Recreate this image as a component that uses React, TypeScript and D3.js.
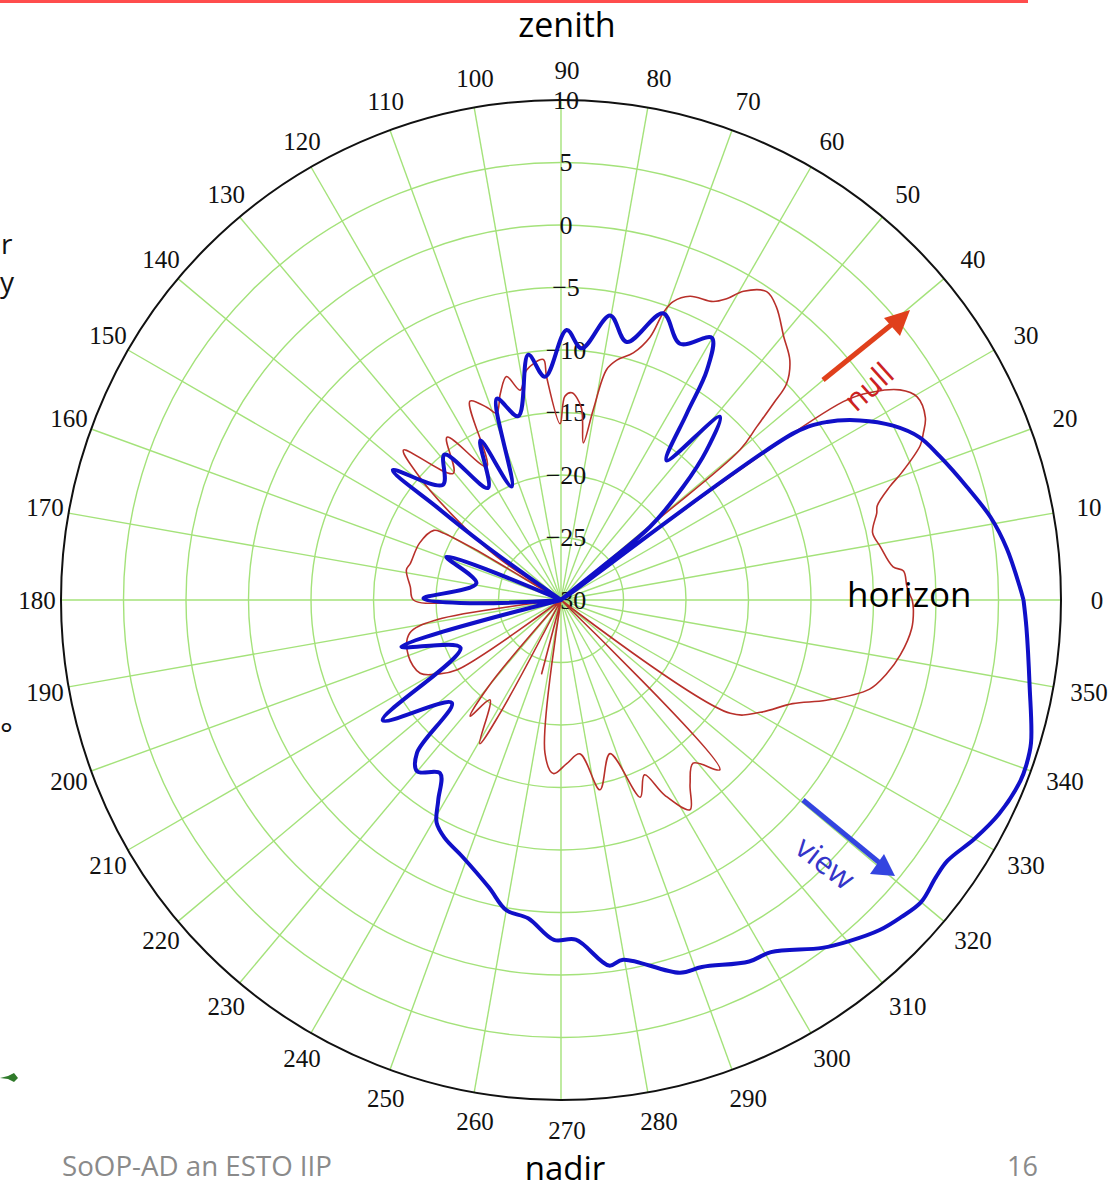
import React from 'react'
import * as d3 from 'd3'

// antenna pattern, angle in degrees (0 = horizon, 90 = zenith), gain in dB
const blueAngles = [0, 1.75, 6.6, 10.9, 15.6, 20.8, 24.4, 27.7, 31.0, 33.8, 35.6, 37, 39, 39.4, 42.8, 45.8, 49.1, 52.9, 56.0, 57.6, 60.1, 65.1, 70.4, 75.7, 80.2, 85.3, 88.8, 94.1, 97.6, 103.1, 107.7, 113.5, 116.8, 123.1, 128.7, 135.7, 142.3, 143.2, 144.3, 148, 158.5, 159.3, 168.8, 179.3, 182, 183, 195.5, 196.3, 205.4, 214, 223.3, 226.7, 230, 235.1, 238.5, 240.8, 244, 249, 255.9, 260, 264.1, 268.8, 272.5, 277.5, 279.8, 287.7, 291, 297.5, 300.8, 306.9, 310.1, 314, 317, 320, 323.5, 326, 330, 334, 338.5, 340.4, 343.1, 349.7, 356.6, 360]
const blueGain = [7.0, 6.7, 5.9, 5.0, 3.7, 2.4, 1.5, 0.0, -2.1, -4.4, -7.0, -40, -25.3, -20.8, -16.7, -13.3, -10.6, -16.0, -12.0, -8.2, -5.8, -7.4, -5.65, -8.7, -6.9, -9.8, -8.4, -12.1, -10.2, -14.9, -13.1, -20.1, -15.7, -19.3, -15.1, -16.8, -13.0, -17.6, -22.7, -40, -40, -20.2, -23.1, -19.0, -22.7, -40, -40, -16.7, -21.1, -12.8, -18.0, -13.2, -12.1, -13.1, -11.2, -9.6, -8.8, -8.0, -6.3, -4.8, -4.4, -2.8, -2.8, -0.5, -0.8, 1.3, 1.45, 2.6, 2.8, 4.8, 5.7, 6.7, 7.2, 7.6, 7.3, 7.3, 8.2, 9.0, 9.5, 9.5, 9.3, 8.1, 7.3, 7.0]

const redAngles = [0, 2.2, 4.85, 5.7, 9.5, 12.2, 15.4, 16.6, 19.0, 20.5, 23.3, 24.7, 26.6, 29.7, 31.8, 33.7, 35.1, 36.5, 39.3, 39.7, 40.0, 41.5, 42.8, 43.8, 46.3, 49.8, 53.7, 56.3, 59.4, 61.2, 63.0, 67.0, 69.4, 70.4, 71.3, 73.7, 76.9, 78.8, 80.4, 81.9, 84, 87.0, 88.9, 90.3, 93.7, 94.2, 98.5, 101, 103.7, 106.4, 109, 111, 114.6, 119.1, 125, 130.4, 136.4, 139, 142, 146, 148, 149.5, 150.4, 151.3, 158.1, 166.3, 169, 175, 180, 181.5, 183, 187, 189, 192.4, 200, 207.5, 211, 213.9, 215, 228, 230, 232, 234.6, 240.5, 241.7, 243.5, 254, 255.3, 256.5, 262, 264, 267.5, 272, 277, 281.6, 287.7, 291.9, 295.5, 298, 301.6, 305, 309, 313.1, 314.5, 325.5, 326.2, 330.6, 335.9, 339.3, 343.9, 347.2, 350.8, 355.4, 358.5, 360]
const redGain = [-1.9, -2.3, -2.5, -3.3, -4.1, -4.5, -3.8, -3.6, -2.2, -0.9, 1.3, 1.9, 2.6, 2.8, 1.9, 0.0, -2.4, -40, -40, -20, -11.3, -9.1, -6.8, -5.0, -3.5, -2.4, -0.9, -0.35, -1.3, -2.5, -3.2, -3.6, -4.5, -5.6, -7.8, -9.4, -10.3, -11.2, -14.6, -17.3, -14.5, -13.4, -13.7, -15.9, -12.1, -10.7, -11.4, -12.9, -11.6, -12.8, -14.2, -13.5, -12.5, -17.8, -14.1, -16.7, -12.6, -15, -19, -23.8, -40, -22, -19.1, -18.4, -17.8, -17.6, -17.4, -17.9, -18.2, -22, -40, -40, -20, -17.6, -17.0, -17.3, -18.5, -20, -40, -40, -21, -18.2, -20.2, -16.8, -19.7, -40, -40, -23.9, -40, -40, -17.7, -16.1, -16.9, -17.6, -14.5, -17.1, -13.0, -14.5, -12.3, -10.3, -12, -13.2, -11.4, -40, -40, -13.7, -11.7, -9.7, -7.3, -4.3, -3.3, -2.5, -1.85, -1.8, -1.9]

const angleTicks = d3.range(0, 360, 10)
const gainTicks = [-30, -25, -20, -15, -10, -5, 0, 5, 10]

const W = 1119
const H = 1190
const cx = 561
const cy = 600
const R = 500

const serif = '"Liberation Serif", "Times New Roman", serif'
const sans = '"Open Sans", "Noto Sans", sans-serif'

export default function App() {
  const r = d3.scaleLinear().domain([-30, 10]).range([0, R]).clamp(true)
  const rad = (deg: number) => (deg * Math.PI) / 180

  const pattern = d3
    .lineRadial<[number, number]>()
    .angle(d => rad(90 - d[0]))
    .radius(d => r(d[1]))
    .curve(d3.curveCatmullRom.alpha(0.5))

  const blue = blueAngles.map((a, i) => [a, blueGain[i]] as [number, number])
  const red = redAngles.map((a, i) => [a, redGain[i]] as [number, number])

  const fmt = (v: number) => (v < 0 ? '\u2212' + Math.abs(v) : String(v))

  return (
    <div style={{ position: 'absolute', left: 0, top: 0 }}>
      <svg width={W} height={H} style={{ display: 'block', background: '#fff' }}>
        <rect x={0} y={0} width={1028} height={3} fill="#ff4d4d" />

        {/* slide text peeking in at the left edge */}
        <text x={1} y={254} fontFamily={sans} fontSize={28} fill="#111">r</text>
        <text x={0} y={292} fontFamily={sans} fontSize={28} fill="#111">y</text>
        <text x={0} y={744} fontFamily={sans} fontSize={30} fill="#111">°</text>
        <path d="M0,1078 L8,1076 L14,1073 L18,1078 L14,1082 L8,1079 Z" fill="#2f7a2a" />

        <text x={567} y={37} textAnchor="middle" fontFamily={sans} fontSize={34} fill="#000">zenith</text>

        <g transform={`translate(${cx},${cy})`}>
          {gainTicks.filter(g => g > -30 && g < 10).map(g => (
            <circle key={g} r={r(g)} fill="none" stroke="#a4e27a" strokeWidth={1.4} />
          ))}
          {angleTicks.map(a => (
            <line
              key={a}
              x1={0}
              y1={0}
              x2={R * Math.cos(rad(a))}
              y2={-R * Math.sin(rad(a))}
              stroke="#a4e27a"
              strokeWidth={1.4}
            />
          ))}
          <circle r={R} fill="none" stroke="#111" strokeWidth={2} />

          {gainTicks.map(g => (
            <text
              key={g}
              x={5}
              y={-r(g)}
              textAnchor="middle"
              dominantBaseline="central"
              fontFamily={serif}
              fontSize={26}
              fill="#111"
            >
              {fmt(g)}
            </text>
          ))}

          {angleTicks.map(a => (
            <text
              key={a}
              x={6 + 530 * Math.cos(rad(a))}
              y={-530 * Math.sin(rad(a))}
              textAnchor="middle"
              dominantBaseline="central"
              fontFamily={serif}
              fontSize={25}
              fill="#111"
            >
              {a}
            </text>
          ))}

          <path d={pattern(red) || ''} fill="none" stroke="#b8302a" strokeWidth={1.6} strokeLinejoin="round" />
          <path d={pattern(blue) || ''} fill="none" stroke="#1010c8" strokeWidth={4} strokeLinejoin="round" />
        </g>

        {/* null arrow */}
        <line x1={823} y1={380} x2={896} y2={321} stroke="#e0401c" strokeWidth={5} />
        <path d="M910,310 L884,318 L900,336 Z" fill="#e0401c" />
        <text
          transform="translate(868,386) rotate(-42)"
          textAnchor="middle"
          dominantBaseline="central"
          fontFamily={sans}
          fontSize={31}
          fill="#cc2222"
        >
          null
        </text>

        {/* view arrow */}
        <line x1={803} y1={800} x2={881} y2={864} stroke="#3344e0" strokeWidth={5} />
        <path d="M895,876 L870,874 L884,854 Z" fill="#3344e0" />
        <text
          transform="translate(826,862) rotate(38)"
          textAnchor="middle"
          dominantBaseline="central"
          fontFamily={sans}
          fontSize={31}
          fill="#3535c8"
        >
          view
        </text>

        <text x={847} y={607} fontFamily={sans} fontSize={35} fill="#000">horizon</text>
        <text x={565} y={1180} textAnchor="middle" fontFamily={sans} fontSize={33} fill="#000">nadir</text>
        <text x={62} y={1176} fontFamily={sans} fontSize={27} fill="#8a8a8a" textLength={270} lengthAdjust="spacingAndGlyphs">SoOP-AD an ESTO IIP</text>
        <text x={1007} y={1176} fontFamily={sans} fontSize={27} fill="#8a8a8a">16</text>
      </svg>
    </div>
  )
}
